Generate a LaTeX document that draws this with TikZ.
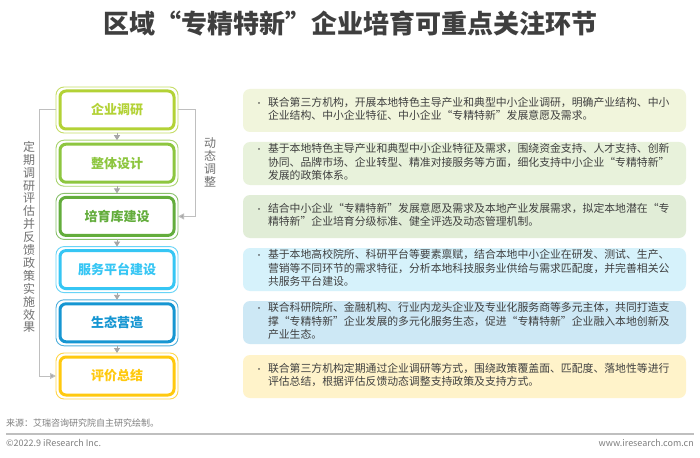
\documentclass[tikz,border=0pt]{standalone}
\usepackage{fontspec}
\setmainfont{Noto Sans CJK SC}
\usetikzlibrary{arrows.meta}
\definecolor{titlec}{HTML}{3F3F3F}
\definecolor{txt}{HTML}{404040}
\definecolor{gry}{HTML}{7F7F7F}
\definecolor{lnc}{HTML}{BFBFBF}
\definecolor{arc}{HTML}{A6A6A6}
\definecolor{cA}{HTML}{B3D236}
\definecolor{cB}{HTML}{8DC63F}
\definecolor{cC}{HTML}{63AD3C}
\definecolor{cD}{HTML}{36C6F4}
\definecolor{cE}{HTML}{1696D2}
\definecolor{cF}{HTML}{FFC90E}
\definecolor{pA}{HTML}{F1F5DC}
\definecolor{pB}{HTML}{E8F2DB}
\definecolor{pC}{HTML}{E1EDD7}
\definecolor{pD}{HTML}{D6F2FB}
\definecolor{pE}{HTML}{CDE8F5}
\definecolor{pF}{HTML}{FFF3CA}
\tikzset{
  stagebox/.style={draw=#1, text=#1, line width=3pt, rounded corners=6pt,
    minimum width=114pt, minimum height=38pt, outer sep=0pt, inner sep=0pt,
    font=\fontsize{13}{15}\selectfont\bfseries},
  stageouter/.style={draw=#1!75, line width=0.9pt, rounded corners=8pt},
  panelbox/.style={fill=#1, draw=none, rounded corners=7pt, minimum width=443pt,
    minimum height=43pt, inner sep=0pt},
  paneltext/.style={anchor=west, inner sep=0pt, text=txt,
    font=\fontsize{10.85}{13.5}\selectfont},
  flowarrow/.style={draw=arc, line width=0.9pt, -{Triangle[width=6pt,length=5pt]},
    shorten <=4pt, shorten >=4pt},
  loopline/.style={draw=lnc, line width=1pt, -{Triangle[width=6pt,length=6pt,fill=arc]}},
  sidetext/.style={text=gry!90!black, align=center, inner sep=0pt,
    font=\fontsize{12}{12.9}\selectfont},
  foottext/.style={text=gry, inner sep=0pt, font=\fontsize{9}{11}\selectfont}
}
\newcommand{\ptab}[1]{\begin{tabular}{@{}l@{}l@{}}#1\end{tabular}}
\newcommand{\bul}{\makebox[13pt][l]{\fontsize{8}{10}\selectfont•}}
\begin{document}
\begin{tikzpicture}[x=1pt,y=-1pt]
\useasboundingbox (0,0) rectangle (700,457);
\fill[white] (0,0) rectangle (700,457);
% title
\node[text=titlec, font=\fontsize{26}{30}\selectfont\bfseries] (title) at (350,24)
  {区域“专精特新”企业培育可重点关注环节};
% stage boxes
\foreach \i/\y/\c/\t in {1/110/cA/企业调研, 2/163.2/cB/整体设计, 3/216.4/cC/培育库建设,
  4/269.6/cD/服务平台建设, 5/322.8/cE/生态营造, 6/376/cF/评价总结}{
  \node[stagebox=\c] (b\i) at (117,\y) {\t};
  \draw[stageouter=\c] ([xshift=-4pt,yshift=4pt]b\i.north west) rectangle
    ([xshift=4pt,yshift=-4pt]b\i.south east);
}
\foreach \a/\b in {1/2,2/3,3/4,4/5,5/6}{
  \draw[flowarrow] (b\a) -- (b\b);
}
% feedback loops
\coordinate (L) at (39,110);
\coordinate (R) at (195,110);
\draw[loopline] ([xshift=-4pt]b1.west) -- (L) |- ([xshift=-4pt]b6.west);
\draw[loopline] ([xshift=4pt]b1.east) -- (R) |- ([xshift=4pt]b3.east);
\node[sidetext] (lefttext) at (29,237)
  {定\\期\\调\\研\\评\\估\\并\\反\\馈\\政\\策\\实\\施\\效\\果};
\node[sidetext] (righttext) at (210,162.5) {动\\态\\调\\整};
% panels
\node[panelbox=pA] (p1) at (464.5,110.5) {};
\node[panelbox=pB] (p2) at (464.5,163.5) {};
\node[panelbox=pC] (p3) at (464.5,216.5) {};
\node[panelbox=pD] (p4) at (464.5,269.5) {};
\node[panelbox=pE] (p5) at (464.5,322.5) {};
\node[panelbox=pF] (p6) at (464.5,376.5) {};
\node[paneltext] (t1) at ([xshift=12pt]p1.west) {\ptab{
\bul & 联合第三方机构，开展本地特色主导产业和典型中小企业调研，明确产业结构、中小\\
 & 企业结构、中小企业特征、中小企业“专精特新”发展意愿及需求。}};
\node[paneltext] (t2) at ([xshift=12pt]p2.west) {\ptab{
\bul & 基于本地特色主导产业和典型中小企业特征及需求，围绕资金支持、人才支持、创新\\
 & 协同、品牌市场、企业转型、精准对接服务等方面，细化支持中小企业“专精特新”\\
 & 发展的政策体系。}};
\node[paneltext] (t3) at ([xshift=12pt]p3.west) {\ptab{
\bul & 结合中小企业“专精特新”发展意愿及需求及本地产业发展需求，拟定本地潜在“专\\
 & 精特新”企业培育分级标准、健全评选及动态管理机制。}};
\node[paneltext] (t4) at ([xshift=12pt]p4.west) {\ptab{
\bul & 基于本地高校院所、科研平台等要素禀赋，结合本地中小企业在研发、测试、生产、\\
 & 营销等不同环节的需求特征，分析本地科技服务业供给与需求匹配度，并完善相关公\\
 & 共服务平台建设。}};
\node[paneltext] (t5) at ([xshift=12pt]p5.west) {\ptab{
\bul & 联合科研院所、金融机构、行业内龙头企业及专业化服务商等多元主体，共同打造支\\
 & 撑“专精特新”企业发展的多元化服务生态，促进“专精特新”企业融入本地创新及\\
 & 产业生态。}};
\node[paneltext] (t6) at ([xshift=12pt]p6.west) {\ptab{
\bul & 联合第三方机构定期通过企业调研等方式，围绕政策覆盖面、匹配度、落地性等进行\\
 & 评估总结，根据评估反馈动态调整支持政策及支持方式。}};
% footer
\node[foottext, anchor=west] (src) at (6,423) {来源：艾瑞咨询研究院自主研究绘制。};
\coordinate (fl) at (6,434);
\coordinate (fr) at (694,434);
\draw[lnc, line width=1.2pt] (fl) -- (fr);
\node[foottext, anchor=west] (copy) at (6,443) {©2022.9 iResearch Inc.};
\node[foottext, anchor=east] (web) at (694,443) {www.iresearch.com.cn};
\end{tikzpicture}
\end{document}
